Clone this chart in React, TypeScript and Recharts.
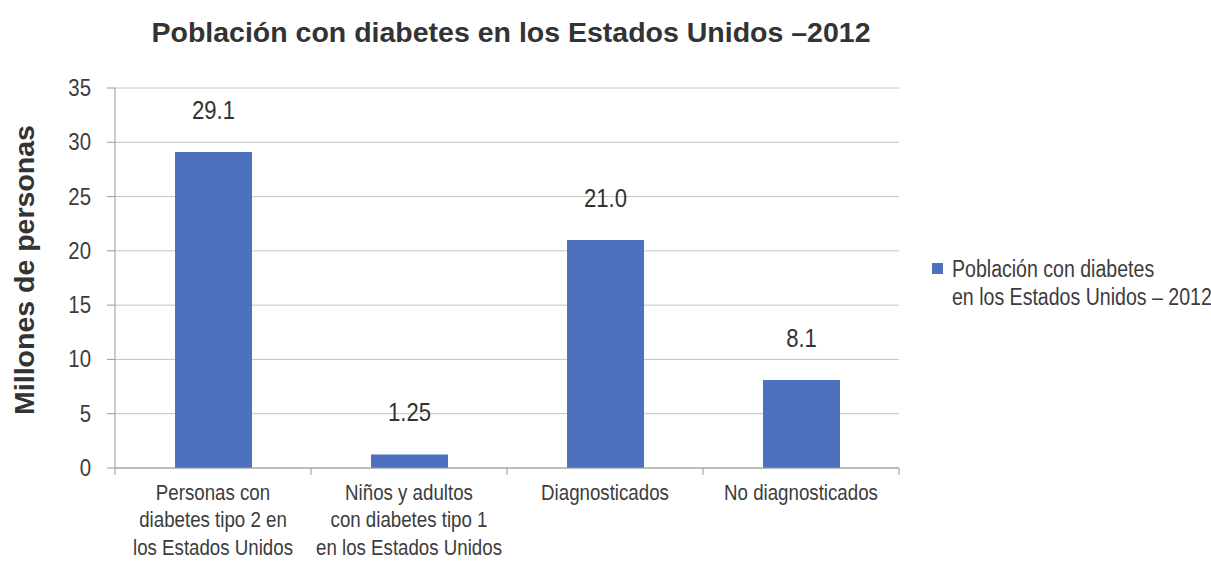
import React from 'react';
import { BarChart, Bar, XAxis, YAxis, CartesianGrid, LabelList, Legend } from 'recharts';

const categories: string[][] = [
  ['Personas con', 'diabetes tipo 2 en', 'los Estados Unidos'],
  ['Niños y adultos', 'con diabetes tipo 1', 'en los Estados Unidos'],
  ['Diagnosticados'],
  ['No diagnosticados'],
];
const values = [29.1, 1.25, 21.0, 8.1];
const valueLabels = ['29.1', '1.25', '21.0', '8.1'];
const yTicks = [0, 5, 10, 15, 20, 25, 30, 35];

const seriesName = 'Población con diabetes en los Estados Unidos – 2012';
const legendLines = ['Población con diabetes', 'en los Estados Unidos – 2012'];
const title = 'Población con diabetes en los Estados Unidos –2012';
const yTitle = 'Millones de personas';

const data = categories.map((_, i) => ({
  key: String(i),
  value: values[i],
  label: valueLabels[i],
}));

const W = 1211;
const H = 562;
const LEGEND_W = 290;
const RIGHT = 312;
const M = { top: 88, right: RIGHT - LEGEND_W, bottom: 0, left: 0 };
const Y_W = 115;
const X_H = 94;
const BAND = (W - RIGHT - Y_W) / categories.length;
const FONT = "'Liberation Sans', Arial, sans-serif";
const NARROW = 0.85; // the source uses a condensed face
const BLUE = '#4d70bf';
const AXIS = '#9a9a9a';
const TEXT = '#3c3c3c';

const squeeze = (x: number) => `translate(${x} 0) scale(${NARROW} 1) translate(${-x} 0)`;

function CategoryTick(props: any) {
  const { x, y, payload, index } = props;
  const lines = categories[Number(payload.value)] ?? [];
  const half = BAND / 2;
  return (
    <g>
      <line x1={x - half} x2={x - half} y1={y} y2={y + 7} stroke={AXIS} />
      {index === categories.length - 1 && (
        <line x1={x + half} x2={x + half} y1={y} y2={y + 7} stroke={AXIS} />
      )}
      <text
        x={x}
        y={y + 32}
        textAnchor="middle"
        fontSize={22}
        fill={TEXT}
        fontFamily={FONT}
        transform={squeeze(x)}
      >
        {lines.map((l, i) => (
          <tspan key={i} x={x} dy={i === 0 ? 0 : 27.5}>
            {l}
          </tspan>
        ))}
      </text>
    </g>
  );
}

function ValueTick(props: any) {
  const { x, y, payload } = props;
  return (
    <text
      x={x}
      y={y + 8}
      textAnchor="end"
      fontSize={24}
      fill={TEXT}
      fontFamily={FONT}
      transform={squeeze(x)}
    >
      {payload.value}
    </text>
  );
}

function BarValue(props: any) {
  const { x, y, width, value } = props;
  const cx = x + width / 2;
  return (
    <text
      x={cx}
      y={y - 33}
      textAnchor="middle"
      fontSize={26}
      fill="#333"
      fontFamily={FONT}
      transform={squeeze(cx)}
    >
      {value}
    </text>
  );
}

function YTitle(props: any) {
  const { viewBox } = props;
  const cy = viewBox.y + viewBox.height / 2 - 8;
  return (
    <text
      x={34}
      y={cy}
      transform={`rotate(-90 34 ${cy})`}
      textAnchor="middle"
      fontSize={28.5}
      fontWeight="bold"
      fill="#333"
      fontFamily={FONT}
    >
      {yTitle}
    </text>
  );
}

function LegendBox() {
  return (
    <div style={{ display: 'flex', fontFamily: FONT, fontSize: 23, color: TEXT, lineHeight: '28px' }}>
      <span style={{ width: 11, height: 11, background: BLUE, marginTop: 8, marginRight: 9, flexShrink: 0 }} />
      <div
        style={{ whiteSpace: 'nowrap', transform: `scaleX(${NARROW})`, transformOrigin: 'left center' }}
        title={seriesName}
      >
        <div>{legendLines[0]}</div>
        <div>{legendLines[1]}</div>
      </div>
    </div>
  );
}

export default function App() {
  return (
    <div style={{ position: 'absolute', left: 0, top: 0, width: W, height: H, background: '#fff', overflow: 'hidden' }}>
      <div
        style={{
          position: 'absolute',
          left: 0,
          width: 1022,
          top: 16,
          textAlign: 'center',
          fontFamily: FONT,
          fontWeight: 'bold',
          fontSize: 28.5,
          color: '#333',
        }}
      >
        {title}
      </div>
      <BarChart width={W} height={H} data={data} margin={M}>
        <CartesianGrid vertical={false} stroke="#c4c4c4" />
        <XAxis
          dataKey="key"
          height={X_H}
          stroke={AXIS}
          tickLine={false}
          tickSize={0}
          tickMargin={0}
          interval={0}
          tick={<CategoryTick />}
        />
        <YAxis
          width={Y_W}
          domain={[0, 35]}
          ticks={yTicks}
          interval={0}
          stroke={AXIS}
          tickSize={8}
          tickMargin={16}
          tick={<ValueTick />}
          label={<YTitle />}
        />
        <Legend
          layout="vertical"
          align="right"
          verticalAlign="middle"
          content={() => <LegendBox />}
          wrapperStyle={{ left: 932, top: 255, width: LEGEND_W }}
        />
        <Bar dataKey="value" name={seriesName} fill={BLUE} barSize={77} isAnimationActive={false}>
          <LabelList dataKey="label" content={<BarValue />} />
        </Bar>
      </BarChart>
    </div>
  );
}
